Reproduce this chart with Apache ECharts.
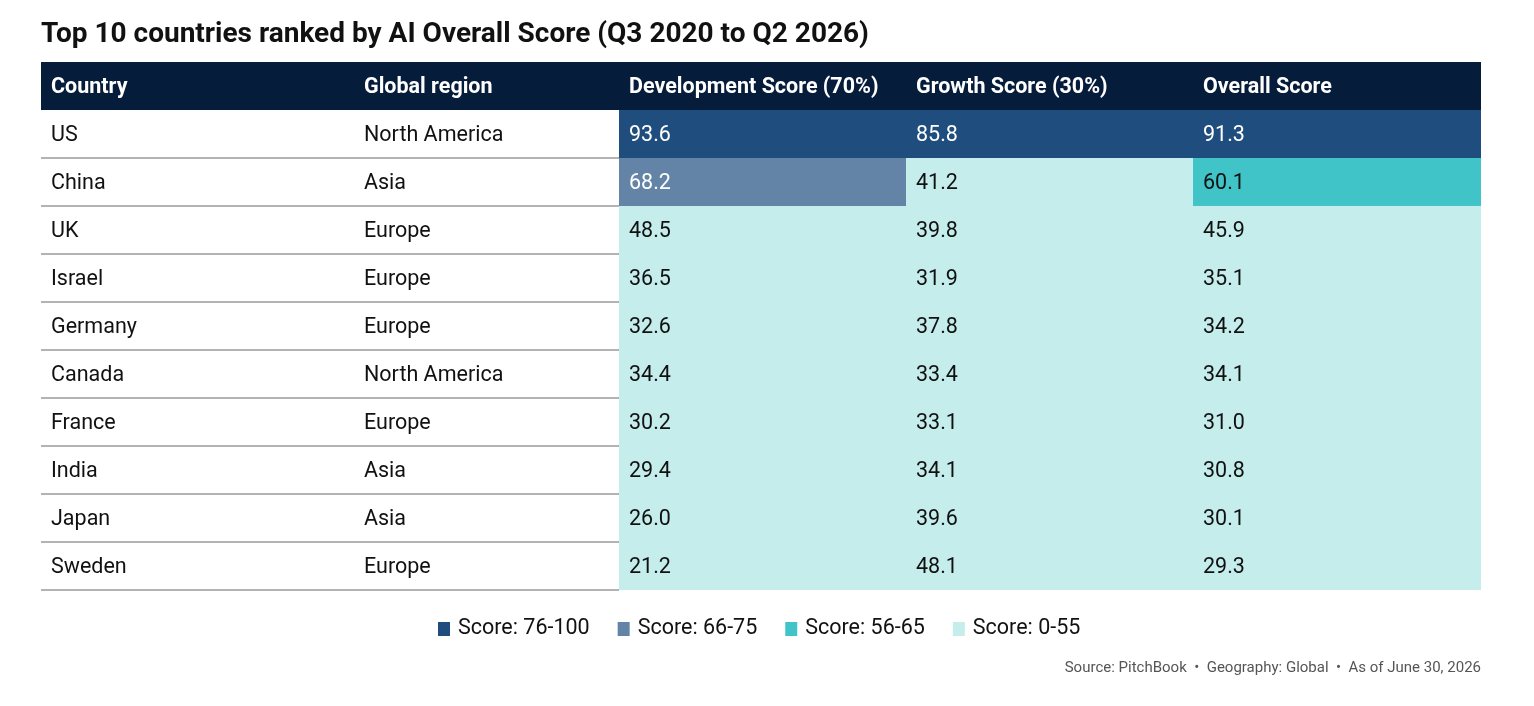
<!DOCTYPE html>
<html><head><meta charset="utf-8">
<script src="https://cdn.jsdelivr.net/npm/echarts@6/dist/echarts.min.js"></script>
<style>html,body{margin:0;padding:0;background:#fff}#c{width:1534px;height:706px}</style>
</head><body><div id="c"></div>
<script>
// ---- data ----
const titleText = 'Top 10 countries ranked by AI Overall Score (Q3 2020 to Q2 2026)';
const sourceText = 'Source: PitchBook  \u2022  Geography: Global  \u2022  As of June 30, 2026';
const headers = ['Country', 'Global region', 'Development Score (70%)', 'Growth Score (30%)', 'Overall Score'];
const countries = ['US', 'China', 'UK', 'Israel', 'Germany', 'Canada', 'France', 'India', 'Japan', 'Sweden'];
const regions = ['North America', 'Asia', 'Europe', 'Europe', 'Europe', 'North America', 'Europe', 'Asia', 'Asia', 'Europe'];
const developmentScore = [93.6, 68.2, 48.5, 36.5, 32.6, 34.4, 30.2, 29.4, 26.0, 21.2];
const growthScore = [85.8, 41.2, 39.8, 31.9, 37.8, 33.4, 33.1, 34.1, 39.6, 48.1];
const overallScore = [91.3, 60.1, 45.9, 35.1, 34.2, 34.1, 31.0, 30.8, 30.1, 29.3];
const scoreBands = [
  { gte: 76, lte: 100, label: 'Score: 76-100' },
  { gte: 66, lt: 76, label: 'Score: 66-75' },
  { gte: 56, lt: 66, label: 'Score: 56-65' },
  { gte: 0, lt: 56, label: 'Score: 0-55' }
];

// ---- layout / style ----
const FONT = 'Roboto, "Liberation Sans", sans-serif';
const bandColors = ['#1f4e7e', '#6384a6', '#40c4c8', '#c5edec'];
const darkBands = 2; // first N bands get white text
const columnEdges = [0, 313, 578, 865, 1152, 1440];
const padX = 10;
const textDy = 1.5;
const bodyFont = '21.5px ' + FONT;
const headFont = 'bold 21.5px ' + FONT;

const rowKeys = ['header'].concat(countries);
const scoreCols = [developmentScore, growthScore, overallScore];

const textData = countries.map((c, i) => ({ value: [0, i + 1], name: c }));
const scoreData = [];
countries.forEach((c, r) => {
  scoreCols.forEach((col, k) => { scoreData.push([k, r + 1, col[r]]); });
});

function cellBox(api, x0, x1, row) {
  const p0 = api.coord([x0, row]);
  const p1 = api.coord([x1, row]);
  const h = api.size([0, 1])[1];
  return { x: p0[0], x1: p1[0], y: p0[1] - h / 2, h: h, cy: p0[1] };
}

const chart = echarts.init(document.getElementById('c'), null, { renderer: 'canvas' });
chart.setOption({
  animation: false,
  backgroundColor: '#fff',
  title: [
    { text: titleText, left: 36, top: 16, textStyle: { fontFamily: FONT, fontSize: 28, fontWeight: 'bold', color: '#111' } },
    { text: sourceText, right: 48, top: 656, textStyle: { fontFamily: FONT, fontSize: 15, fontWeight: 'normal', color: '#555' } }
  ],
  grid: { left: 41, right: 53, top: 62, bottom: 116 },
  xAxis: { type: 'value', min: 0, max: 1440, show: false },
  yAxis: { type: 'category', data: rowKeys, inverse: true, show: false },
  visualMap: {
    type: 'piecewise',
    orient: 'horizontal',
    inverse: true,
    left: 423,
    top: 603,
    seriesIndex: 2,
    dimension: 2,
    selectedMode: false,
    itemWidth: 12,
    itemHeight: 14,
    itemGap: 28,
    itemSymbol: 'rect',
    textGap: 8,
    textStyle: { fontFamily: FONT, fontSize: 21.5, color: '#111' },
    pieces: scoreBands.map((b, i) => Object.assign({}, b, { color: bandColors[i] }))
  },
  series: [
    {
      type: 'custom',
      name: 'header',
      silent: true,
      data: [[0, 0]],
      encode: { x: 0, y: 1 },
      renderItem: function (params, api) {
        const b = cellBox(api, columnEdges[0], columnEdges[columnEdges.length - 1], 0);
        const children = [{ type: 'rect', shape: { x: b.x, y: b.y, width: b.x1 - b.x, height: b.h }, style: { fill: '#061c3b' } }];
        headers.forEach((h, i) => {
          const p = api.coord([columnEdges[i], 0]);
          children.push({ type: 'text', style: { x: p[0] + padX, y: b.cy + textDy, text: h, font: headFont, fill: '#fff', verticalAlign: 'middle', align: 'left' } });
        });
        return { type: 'group', children: children };
      }
    },
    {
      type: 'custom',
      name: 'labels',
      silent: true,
      data: textData,
      encode: { x: 0, y: 1 },
      renderItem: function (params, api) {
        const row = api.value(1);
        const i = params.dataIndex;
        const b = cellBox(api, columnEdges[0], columnEdges[2], row);
        const pReg = api.coord([columnEdges[1], row]);
        return {
          type: 'group', children: [
            { type: 'text', style: { x: b.x + padX, y: b.cy + textDy, text: countries[i], font: bodyFont, fill: '#111', verticalAlign: 'middle' } },
            { type: 'text', style: { x: pReg[0] + padX, y: b.cy + textDy, text: regions[i], font: bodyFont, fill: '#111', verticalAlign: 'middle' } },
            { type: 'line', shape: { x1: b.x, y1: b.y + b.h, x2: b.x1, y2: b.y + b.h }, style: { stroke: '#9a9a9a', lineWidth: 1.5 } }
          ]
        };
      }
    },
    {
      type: 'custom',
      name: 'scores',
      silent: true,
      data: scoreData,
      encode: { x: 0, y: 1 },
      renderItem: function (params, api) {
        const k = api.value(0);
        const row = api.value(1);
        const v = api.value(2);
        const b = cellBox(api, columnEdges[k + 2], columnEdges[k + 3], row);
        const dark = v >= scoreBands[darkBands - 1].gte;
        return {
          type: 'group', children: [
            { type: 'rect', shape: { x: b.x, y: b.y, width: b.x1 - b.x, height: b.h }, style: { fill: api.visual('color') } },
            { type: 'text', style: { x: b.x + padX, y: b.cy + textDy, text: v.toFixed(1), font: bodyFont, fill: dark ? '#fff' : '#111', verticalAlign: 'middle' } }
          ]
        };
      }
    }
  ]
});
</script>
</body></html>
